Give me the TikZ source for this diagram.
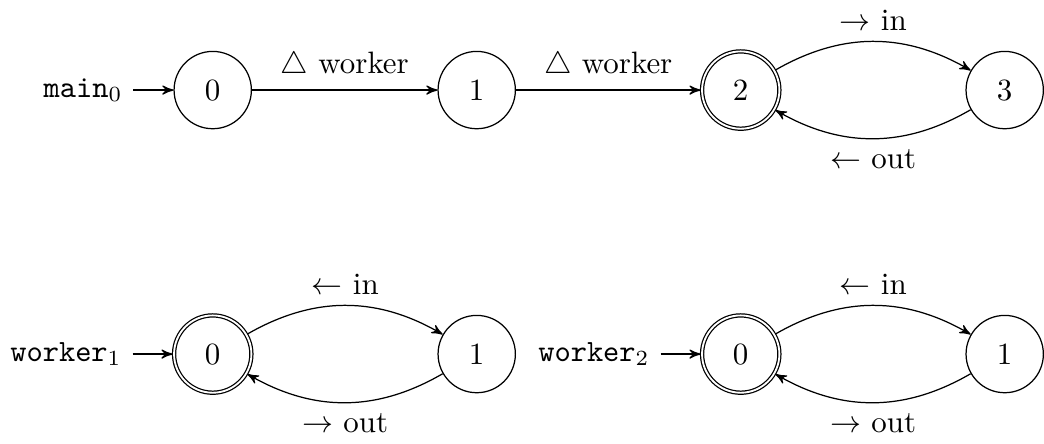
\documentclass[tikz,border=0pt]{standalone}
\usepackage{amsmath}
\usepackage{amssymb}
\usetikzlibrary{arrows,automata,positioning}

\begin{document}
\begin{tikzpicture}[>=stealth',auto,node distance=3cm,on grid]
			% main
			\node[state,initial,initial text={\texttt{main}$_0$}] (m0) {$0$};
			\node[state] (m1) [right=of m0] {$1$};
			\node[state,accepting] (m2) [right=of m1] {$2$};
			\node[state] (m3) [right=of m2] {$3$};
			% workers
			\node[state,accepting,initial,initial text={\texttt{worker}$_1$}] (wa0) [below=of m0] {$0$};
			\node[state] (wa1) [right=of wa0] {$1$};
			\node[state,accepting,initial,initial text={\texttt{worker}$_2$}] (wb0) [right=of wa1] {$0$};
			\node[state] (wb1) [right=of wb0] {$1$};
			\path[->] (m0) edge node {$\triangle$ worker} (m1)
				(m1) edge node {$\triangle$ worker} (m2)
				(m2) edge [bend left] node {$\rightarrow$ in} (m3)
				(m3) edge [bend left] node {$\leftarrow$ out} (m2)
				(wa0) edge [bend left] node {$\leftarrow$ in} (wa1)
				(wa1) edge [bend left] node {$\rightarrow$ out} (wa0)
				(wb0) edge [bend left] node {$\leftarrow$ in} (wb1)
				(wb1) edge [bend left] node {$\rightarrow$ out} (wb0);
\end{tikzpicture}
\end{document}
